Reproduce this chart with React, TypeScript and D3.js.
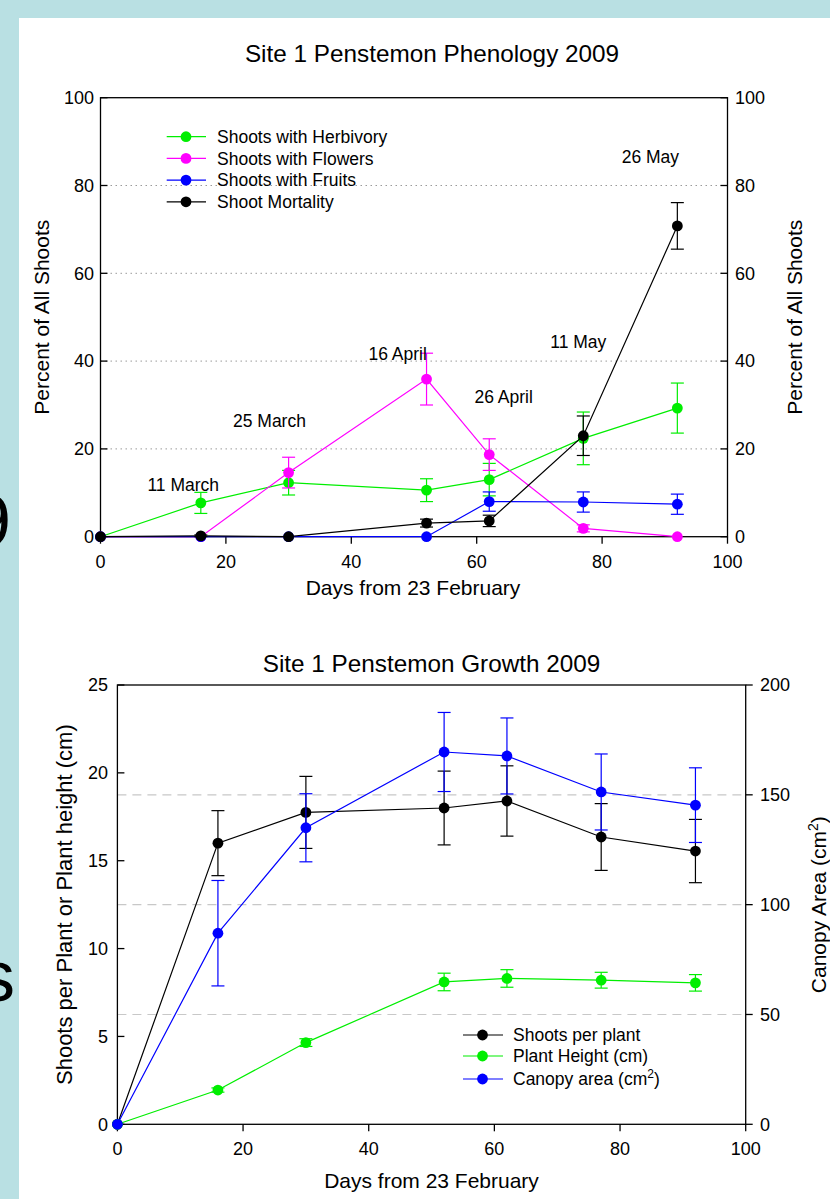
import React from 'react';
import * as d3 from 'd3';

const FONT = '"Liberation Sans", Arial, Helvetica, sans-serif';

// shared sampling days (days from 23 February)
const days = [0, 16, 30, 52, 62, 77, 92];

// top chart: phenology (% of all shoots)
const herbivory = [0, 7.7, 12.3, 10.6, 13.0, 22.4, 29.3];
const herbivoryErr = [0, 2.4, 2.8, 2.6, 3.7, 6.0, 5.7];
const flowers = [0, 0, 14.6, 35.9, 18.7, 1.9, 0];
const flowersErr = [0, 0, 3.5, 5.9, 3.6, 0.8, 0];
const fruits = [0, 0, 0, 0, 8.0, 7.9, 7.4];
const fruitsErr = [0, 0, 0, 0, 2.2, 2.3, 2.3];
const mortality = [0, 0.2, 0, 3.1, 3.6, 23.0, 70.8];
const mortalityErr = [0, 0.2, 0, 0.9, 1.3, 4.5, 5.3];

const topLegend = ['Shoots with Herbivory', 'Shoots with Flowers', 'Shoots with Fruits', 'Shoot Mortality'];
const topColors = ['#00ee00', '#ff00ff', '#0000ff', '#000000'];
const topTicks = [0, 20, 40, 60, 80, 100];
const topGrid = [20, 40, 60, 80];

// date annotations placed in data coordinates (day, percent)
const annLabels = ['11 March', '25 March', '16 April', '26 April', '11 May', '26 May'];
const annDay = [13.2, 26.95, 47.4, 64.3, 76.2, 87.7];
const annVal = [10.4, 25.0, 40.25, 30.5, 43.0, 85.1];

// bottom chart: growth
const shoots = [0, 16.0, 17.75, 18.0, 18.4, 16.35, 15.55];
const shootsErr = [0, 1.85, 2.05, 2.1, 2.0, 1.9, 1.8];
const heightCm = [0, 1.95, 4.65, 8.1, 8.3, 8.2, 8.05];
const heightErr = [0, 0.12, 0.22, 0.5, 0.5, 0.45, 0.47];
const canopy = [0, 87, 135, 169.5, 167.7, 151.3, 145.3];
const canopyErr = [0, 24, 15.5, 18, 17.3, 17.3, 17];

const botLeftTicks = [0, 5, 10, 15, 20, 25];
const botRightTicks = [0, 50, 100, 150, 200];
const botGrid = [50, 100, 150];
const xTicks = [0, 20, 40, 60, 80, 100];

type Scale = d3.ScaleLinear<number, number>;

function Series({ x, y, vals, errs, color }: { x: Scale; y: Scale; vals: number[]; errs: number[]; color: string }) {
  const line = d3
    .line<number>()
    .x((_, i) => x(days[i]))
    .y((v) => y(v));
  const cap = 6.5;
  return (
    <g>
      <path d={line(vals) || ''} fill="none" stroke={color} strokeWidth={1.2} />
      {vals.map((v, i) =>
        errs[i] > 0 ? (
          <g key={'e' + i} stroke={color} strokeWidth={1.2}>
            <line x1={x(days[i])} x2={x(days[i])} y1={y(v - errs[i])} y2={y(v + errs[i])} />
            <line x1={x(days[i]) - cap} x2={x(days[i]) + cap} y1={y(v - errs[i])} y2={y(v - errs[i])} />
            <line x1={x(days[i]) - cap} x2={x(days[i]) + cap} y1={y(v + errs[i])} y2={y(v + errs[i])} />
          </g>
        ) : null
      )}
      {vals.map((v, i) => (
        <circle key={'c' + i} cx={x(days[i])} cy={y(v)} r={5.4} fill={color} />
      ))}
    </g>
  );
}

export default function App() {
  // top chart scales
  const x1 = d3.scaleLinear().domain([0, 100]).range([100.5, 727.5]);
  const y1 = d3.scaleLinear().domain([0, 100]).range([536.7, 97.7]);
  // bottom chart scales
  const x2 = d3.scaleLinear().domain([0, 100]).range([117.4, 745.7]);
  const yL = d3.scaleLinear().domain([0, 25]).range([1124.3, 685]);
  const yR = d3.scaleLinear().domain([0, 200]).range([1124.3, 685]);

  const tick = 18;
  const leg = 17.5;
  const axT = 21;
  const ttl = 24.3;

  const topSeries = [
    { vals: herbivory, errs: herbivoryErr },
    { vals: flowers, errs: flowersErr },
    { vals: fruits, errs: fruitsErr },
    { vals: mortality, errs: mortalityErr },
  ];

  return (
    <div style={{ position: 'absolute', left: 0, top: 0 }}>
      <svg width={830} height={1199} style={{ display: 'block' }} fontFamily={FONT}>
        <rect x={0} y={0} width={830} height={1199} fill="#b9e0e3" />
        <rect x={19} y={18} width={811} height={1181} fill="#ffffff" />
        {/* cut-off slide text at the left edge */}
        <text x={11} y={546} fontSize={72} textAnchor="end" fill="#000">2009</text>
        <text x={15} y={1001} fontSize={72} textAnchor="end" fill="#000">Results</text>

        {/* ================= TOP CHART ================= */}
        <text x={432} y={62} fontSize={ttl} textAnchor="middle">Site 1  Penstemon Phenology 2009</text>
        {topGrid.map((g) => (
          <line key={g} x1={x1(0)} x2={x1(100)} y1={y1(g)} y2={y1(g)} stroke="#9a9a9a" strokeWidth={1} strokeDasharray="1.5,3.5" />
        ))}
        <rect x={x1(0)} y={y1(100)} width={x1(100) - x1(0)} height={y1(0) - y1(100)} fill="none" stroke="#000" strokeWidth={1.3} />
        {topTicks.map((t) => (
          <g key={'yt' + t}>
            <line x1={x1(0)} x2={x1(0) + 7} y1={y1(t)} y2={y1(t)} stroke="#000" strokeWidth={1.3} />
            <line x1={x1(100)} x2={x1(100) - 7} y1={y1(t)} y2={y1(t)} stroke="#000" strokeWidth={1.3} />
            <text x={94} y={y1(t)} dy="0.35em" fontSize={tick} textAnchor="end">{t}</text>
            <text x={735} y={y1(t)} dy="0.35em" fontSize={tick} textAnchor="start">{t}</text>
          </g>
        ))}
        {xTicks.map((t) => (
          <g key={'xt' + t}>
            <line x1={x1(t)} x2={x1(t)} y1={y1(0)} y2={y1(0) + 7} stroke="#000" strokeWidth={1.3} />
            <text x={x1(t)} y={568} fontSize={tick} textAnchor="middle">{t}</text>
          </g>
        ))}
        <text x={413} y={595} fontSize={axT} textAnchor="middle">Days from 23 February</text>
        <text transform={`translate(49,${(y1(0) + y1(100)) / 2}) rotate(-90)`} fontSize={axT} textAnchor="middle">Percent of All Shoots</text>
        <text transform={`translate(802,${(y1(0) + y1(100)) / 2}) rotate(-90)`} fontSize={axT} textAnchor="middle">Percent of All Shoots</text>

        {topSeries.map((s, i) => (
          <Series key={i} x={x1} y={y1} vals={s.vals} errs={s.errs} color={topColors[i]} />
        ))}

        {annLabels.map((a, i) => (
          <text key={a} x={x1(annDay[i])} y={y1(annVal[i])} fontSize={leg} textAnchor="middle">{a}</text>
        ))}

        {topLegend.map((l, i) => {
          const yy = 136.7 + i * 21.7;
          return (
            <g key={l}>
              <line x1={166.7} x2={206} y1={yy} y2={yy} stroke={topColors[i]} strokeWidth={1.2} />
              <circle cx={186} cy={yy} r={5.4} fill={topColors[i]} />
              <text x={217} y={yy} dy="0.35em" fontSize={leg}>{l}</text>
            </g>
          );
        })}

        {/* ================= BOTTOM CHART ================= */}
        <text x={431.5} y={672} fontSize={ttl} textAnchor="middle">Site 1 Penstemon Growth 2009</text>
        {botGrid.map((g) => (
          <line key={g} x1={x2(0)} x2={x2(100)} y1={yR(g)} y2={yR(g)} stroke="#c8c8c8" strokeWidth={1.2} strokeDasharray="9,6" />
        ))}
        <rect x={x2(0)} y={yL(25)} width={x2(100) - x2(0)} height={yL(0) - yL(25)} fill="none" stroke="#000" strokeWidth={1.3} />
        {botLeftTicks.map((t) => (
          <g key={'bl' + t}>
            <line x1={x2(0)} x2={x2(0) + 7} y1={yL(t)} y2={yL(t)} stroke="#000" strokeWidth={1.3} />
            <text x={108} y={yL(t)} dy="0.35em" fontSize={tick} textAnchor="end">{t}</text>
          </g>
        ))}
        {botRightTicks.map((t) => (
          <g key={'br' + t}>
            <line x1={x2(100)} x2={x2(100) + 7} y1={yR(t)} y2={yR(t)} stroke="#000" strokeWidth={1.3} />
            <text x={760} y={yR(t)} dy="0.35em" fontSize={tick} textAnchor="start">{t}</text>
          </g>
        ))}
        {xTicks.map((t) => (
          <g key={'bx' + t}>
            <line x1={x2(t)} x2={x2(t)} y1={yL(0)} y2={yL(0) + 7} stroke="#000" strokeWidth={1.3} />
            <text x={x2(t)} y={1155} fontSize={tick} textAnchor="middle">{t}</text>
          </g>
        ))}
        <text x={431.5} y={1188} fontSize={axT} textAnchor="middle">Days from 23 February</text>
        <text transform={`translate(72,${(yL(0) + yL(25)) / 2}) rotate(-90)`} fontSize={22} textAnchor="middle">Shoots per Plant or Plant height (cm)</text>
        <text transform={`translate(826,${(yL(0) + yL(25)) / 2}) rotate(-90)`} fontSize={axT} textAnchor="middle">
          Canopy Area (cm<tspan dy={-8} fontSize={14}>2</tspan><tspan dy={8}>)</tspan>
        </text>

        <Series x={x2} y={yL} vals={shoots} errs={shootsErr} color="#000000" />
        <Series x={x2} y={yL} vals={heightCm} errs={heightErr} color="#00ee00" />
        <Series x={x2} y={yR} vals={canopy} errs={canopyErr} color="#0000ff" />

        {/* bottom legend */}
        {[
          { c: '#000000', y: 1035 },
          { c: '#00ee00', y: 1056 },
          { c: '#0000ff', y: 1079 },
        ].map((r, i) => (
          <g key={'bleg' + i}>
            <line x1={463} x2={503} y1={r.y} y2={r.y} stroke={r.c} strokeWidth={1.2} />
            <circle cx={482.5} cy={r.y} r={5.4} fill={r.c} />
          </g>
        ))}
        <text x={513} y={1035} dy="0.35em" fontSize={leg}>Shoots per plant</text>
        <text x={513} y={1056} dy="0.35em" fontSize={leg}>Plant Height (cm)</text>
        <text x={513} y={1079} dy="0.35em" fontSize={leg}>
          Canopy area (cm<tspan dy={-7} fontSize={12}>2</tspan><tspan dy={7}>)</tspan>
        </text>
      </svg>
    </div>
  );
}
